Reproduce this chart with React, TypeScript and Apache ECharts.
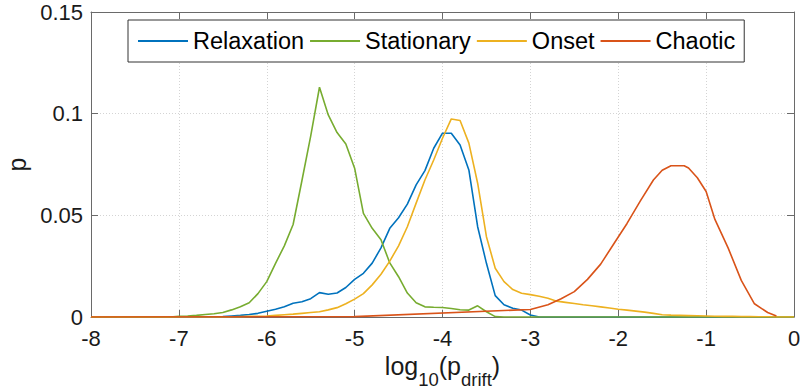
import React, { useEffect, useRef } from "react";
import * as echarts from "echarts";

const FONT = "Liberation Sans, Arial, Helvetica, sans-serif";

const seriesNames = ["Relaxation", "Stationary", "Onset", "Chaotic"];
const seriesColors = ["#0072BD", "#77AC30", "#EDB120", "#D95319"];

const xTicks = [-8, -7, -6, -5, -4, -3, -2, -1, 0];
const yTicks = [0, 0.05, 0.1, 0.15];

const relaxationX = [-8, -6.6, -6.5, -6.4, -6.3, -6.2, -6.1, -6.0, -5.9, -5.8, -5.7, -5.6, -5.5, -5.4, -5.3, -5.2, -5.1, -5.0, -4.9, -4.8, -4.7, -4.6, -4.5, -4.4, -4.3, -4.2, -4.1, -4.0, -3.9, -3.8, -3.7, -3.6, -3.5, -3.4, -3.3, -3.2, -3.1, -3.0, -2.9, 0];
const relaxationP = [0, 0, 0.0002, 0.0005, 0.0008, 0.0012, 0.0018, 0.0028, 0.0038, 0.005, 0.0068, 0.0075, 0.009, 0.012, 0.0112, 0.0118, 0.0145, 0.0185, 0.0215, 0.0265, 0.034, 0.0436, 0.0488, 0.0555, 0.065, 0.072, 0.083, 0.0904, 0.0904, 0.0846, 0.0723, 0.0444, 0.0264, 0.0105, 0.006, 0.0043, 0.0034, 0.001, 0, 0];

const stationaryX = [-8, -7.1, -7.0, -6.9, -6.8, -6.7, -6.6, -6.5, -6.4, -6.3, -6.2, -6.1, -6.0, -5.9, -5.8, -5.7, -5.6, -5.5, -5.4, -5.3, -5.2, -5.1, -5.0, -4.9, -4.8, -4.7, -4.6, -4.5, -4.4, -4.3, -4.2, -4.1, -4.0, -3.9, -3.8, -3.7, -3.6, -3.5, -3.4, -3.3, 0];
const stationaryP = [0, 0, 0.0003, 0.0005, 0.0008, 0.0012, 0.0016, 0.0022, 0.0035, 0.005, 0.007, 0.0115, 0.0174, 0.0264, 0.035, 0.0455, 0.067, 0.089, 0.113, 0.0994, 0.0907, 0.0851, 0.0732, 0.051, 0.0436, 0.038, 0.0266, 0.0198, 0.0118, 0.007, 0.005, 0.0048, 0.0047, 0.0042, 0.0036, 0.0034, 0.0055, 0.0026, 0.0002, 0, 0];

const onsetX = [-8, -6.5, -6.4, -6.3, -6.2, -6.1, -6.0, -5.9, -5.8, -5.7, -5.6, -5.5, -5.4, -5.3, -5.2, -5.1, -5.0, -4.9, -4.8, -4.7, -4.6, -4.5, -4.4, -4.3, -4.2, -4.1, -4.0, -3.9, -3.8, -3.7, -3.6, -3.5, -3.4, -3.3, -3.2, -3.1, -3.0, -2.9, -2.8, -2.7, -2.6, -2.5, -2.4, -2.3, -2.2, -2.1, -2.0, -1.9, -1.8, -1.7, -1.6, -1.5, -1.4, -1.3, -1.2, -1.1, -1.0, -0.9, -0.8, -0.7, -0.6, -0.5, -0.4, -0.3, -0.2, 0];
const onsetP = [0, 0, 0.0001, 0.0002, 0.0003, 0.0004, 0.0005, 0.0008, 0.0011, 0.0014, 0.0018, 0.0022, 0.0026, 0.0035, 0.0046, 0.0065, 0.0088, 0.0115, 0.0158, 0.021, 0.0275, 0.035, 0.0444, 0.056, 0.0674, 0.0772, 0.0879, 0.0974, 0.0966, 0.0855, 0.0658, 0.0395, 0.024, 0.0174, 0.0135, 0.0117, 0.011, 0.0102, 0.0092, 0.0078, 0.0072, 0.0066, 0.006, 0.0055, 0.005, 0.0044, 0.0038, 0.0034, 0.0029, 0.0024, 0.0018, 0.0011, 0.0009, 0.0008, 0.0007, 0.0006, 0.0005, 0.0004, 0.0003, 0.0003, 0.0002, 0.0002, 0.0001, 0.0001, 0, 0];

const chaoticX = [-8, -5.0, -3.0, -2.8, -2.65, -2.5, -2.35, -2.2, -2.05, -1.9, -1.75, -1.6, -1.5, -1.4, -1.25, -1.2, -1.1, -1.0, -0.9, -0.75, -0.6, -0.45, -0.3, -0.2];
const chaoticP = [0, 0.0002, 0.0037, 0.006, 0.009, 0.0125, 0.0185, 0.026, 0.036, 0.046, 0.057, 0.0674, 0.0722, 0.0744, 0.0744, 0.0733, 0.0685, 0.0617, 0.048, 0.034, 0.018, 0.0065, 0.0022, 0.0005];

const seriesX = [relaxationX, stationaryX, onsetX, chaoticX];
const seriesP = [relaxationP, stationaryP, onsetP, chaoticP];

const AXIS_COLOR = "#6a6a6a";
const TEXT_COLOR = "#1a1a1a";

export default function App() {
  const ref = useRef<HTMLDivElement>(null);
  useEffect(() => {
    if (!ref.current) return;
    const chart = echarts.init(ref.current, undefined, { renderer: "svg" });
    const xMin = xTicks[0];
    const xMax = xTicks[xTicks.length - 1];
    const xInt = xTicks[1] - xTicks[0];
    const yMin = yTicks[0];
    const yMax = yTicks[yTicks.length - 1];
    const yInt = yTicks[1] - yTicks[0];
    const tickStyle = { show: true, inside: true, length: 7, lineStyle: { color: AXIS_COLOR, width: 1 } };
    chart.setOption({
      animation: false,
      backgroundColor: "#ffffff",
      grid: { left: 91, right: 6, top: 12, bottom: 75, containLabel: false, outerBoundsMode: "none" },
      legend: {
        left: 128,
        top: 20,
        orient: "horizontal",
        icon: "rect",
        itemWidth: 50,
        itemHeight: 2,
        itemGap: 6,
        padding: [9, 9, 9, 10],
        borderColor: "#333333",
        borderWidth: 1,
        backgroundColor: "#ffffff",
        textStyle: { fontFamily: FONT, fontSize: 23.5, color: "#000000", lineHeight: 24 },
        data: seriesNames,
      },
      xAxis: [
        {
          type: "value",
          min: xMin,
          max: xMax,
          interval: xInt,
          position: "bottom",
          axisLine: { show: true, onZero: false, lineStyle: { color: AXIS_COLOR, width: 1 } },
          axisTick: tickStyle,
          axisLabel: { fontFamily: FONT, fontSize: 22, color: TEXT_COLOR, margin: 10 },
          splitLine: { show: true, lineStyle: { color: "#d4d4d4", type: [1, 2], width: 1 } },
          name: "{a|log}{s|10}{a|(p}{s|drift}{a|)}",
          nameLocation: "middle",
          nameGap: 32,
          nameTextStyle: {
            fontFamily: FONT,
            color: TEXT_COLOR,
            rich: {
              a: { fontFamily: FONT, fontSize: 25, color: TEXT_COLOR, verticalAlign: "top", lineHeight: 25 },
              s: { fontFamily: FONT, fontSize: 18.5, color: TEXT_COLOR, verticalAlign: "top", lineHeight: 18.5, padding: [16, 0, 0, 0] },
            },
          },
        },
        {
          type: "value",
          min: xMin,
          max: xMax,
          interval: xInt,
          position: "top",
          axisLine: { show: true, onZero: false, lineStyle: { color: AXIS_COLOR, width: 1 } },
          axisTick: tickStyle,
          axisLabel: { show: false },
          splitLine: { show: false },
        },
      ],
      yAxis: [
        {
          type: "value",
          min: yMin,
          max: yMax,
          interval: yInt,
          position: "left",
          axisLine: { show: true, onZero: false, lineStyle: { color: AXIS_COLOR, width: 1 } },
          axisTick: tickStyle,
          axisLabel: { fontFamily: FONT, fontSize: 22, color: TEXT_COLOR, margin: 8 },
          splitLine: { show: true, lineStyle: { color: "#d4d4d4", type: [1, 2], width: 1 } },
          name: "p",
          nameLocation: "middle",
          nameGap: 61,
          nameTextStyle: { fontFamily: FONT, fontSize: 25, color: TEXT_COLOR },
        },
        {
          type: "value",
          min: yMin,
          max: yMax,
          interval: yInt,
          position: "right",
          axisLine: { show: true, onZero: false, lineStyle: { color: AXIS_COLOR, width: 1 } },
          axisTick: tickStyle,
          axisLabel: { show: false },
          splitLine: { show: false },
        },
      ],
      series: seriesNames.map((name, i) => ({
        name,
        type: "line",
        xAxisIndex: 0,
        yAxisIndex: 0,
        symbol: "none",
        showSymbol: false,
        color: seriesColors[i],
        lineStyle: { color: seriesColors[i], width: 1.6 },
        itemStyle: { color: seriesColors[i] },
        data: seriesX[i].map((x, j) => [x, seriesP[i][j]]),
      })),
    });
    return () => chart.dispose();
  }, []);
  return (
    <div
      ref={ref}
      style={{ position: "fixed", left: 0, top: 0, width: 800, height: 392, background: "#fff" }}
    />
  );
}
